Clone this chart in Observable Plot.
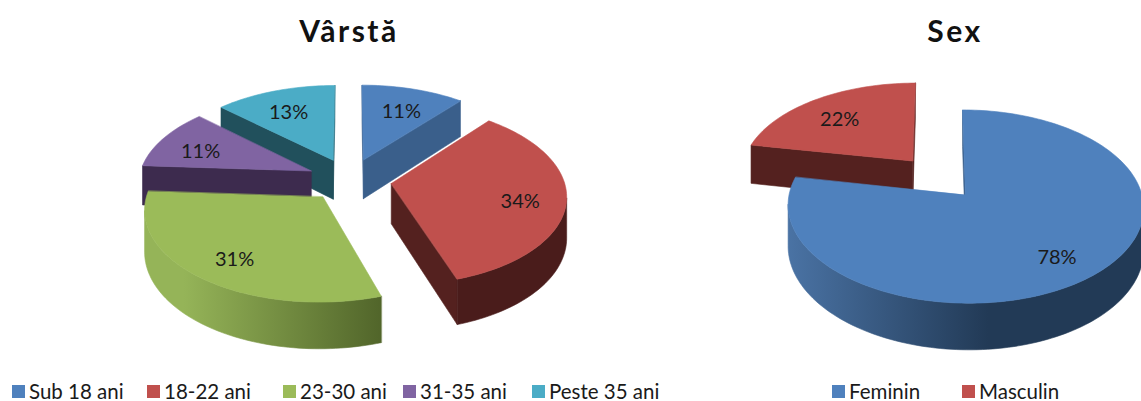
<!DOCTYPE html>
<html>
<head>
<meta charset="utf-8">
<script src="https://cdn.jsdelivr.net/npm/d3@7"></script>
<script src="https://cdn.jsdelivr.net/npm/@observablehq/plot@0.6"></script>
<style>
  html, body { margin: 0; padding: 0; background: #ffffff; }
  body { width: 1141px; height: 401px; overflow: hidden; position: relative; font-family: Lato, "Open Sans", sans-serif; }
  #chart { position: absolute; left: 0; top: 0; }
  .title { position: absolute; top: 12px; font-size: 30px; font-weight: 700; letter-spacing: 2.5px; color: #111; transform: translateX(-50%); white-space: nowrap; }
  .legitem { position: absolute; top: 380px; font-size: 20.5px; color: #1a1a1a; white-space: nowrap; line-height: 22px; height: 22px; }
  .legitem .sw { position: absolute; left: 0; top: 5px; width: 13px; height: 13px; }
  .legitem .tx { position: absolute; left: 17px; top: 0; }
</style>
</head>
<body>
<div id="chart"></div>
<script>
// ---------------- data ----------------
const ageTitle = "Vârstă";
const ageCategories = ["Sub 18 ani", "18-22 ani", "23-30 ani", "31-35 ani", "Peste 35 ani"];
const ageValues = [11, 34, 31, 11, 13];
const ageColors = ["#4F81BD", "#C0504D", "#9BBB59", "#8064A2", "#4BACC6"];

const sexTitle = "Sex";
const sexCategories = ["Feminin", "Masculin"];
const sexValues = [78, 22];
const sexColors = ["#4F81BD", "#C0504D"];

// shading per colour: [cut face, wall light, wall dark]
const shade = {
  "#4F81BD": ["#3A5F8B", "#4D77AA", "#223A56"],
  "#C0504D": ["#54211F", "#7A302E", "#4A1C1B"],
  "#9BBB59": ["#5A6E30", "#95B458", "#4B5E26"],
  "#8064A2": ["#3D2B4E", "#6A5288", "#33243F"],
  "#4BACC6": ["#21505C", "#3C8EA4", "#1C434D"]
};

// ---------------- layout ----------------
const W = 1141, H = 370;
const leftPie  = {id: "a", cx: 349, cy: 179, ax: 172.5, by: 88, q: 0.12, h: 40, explode: 0.245, labelR: 0.74};
const rightPie = {id: "s", cx: 938, cy: 177, ax: 172.5, by: 91, q: 0.12, h: 40, explode: 0.24, labelR: 0.74};

function project(p, X, Y, Z) {
  const s = 1 / (1 + p.q * Y);
  return [p.cx + p.ax * X * s, p.cy + (-p.by * Y + p.h * (1 - Z)) * s];
}
function shoelace(pts) {
  let a = 0;
  for (let i = 0; i < pts.length; i++) {
    const [x1, y1] = pts[i], [x2, y2] = pts[(i + 1) % pts.length];
    a += x1 * y2 - x2 * y1;
  }
  return a;
}

function buildPie(cats, vals, colors, p) {
  const total = d3.sum(vals);
  let acc = 0;
  const slices = vals.map((v, i) => {
    const a0 = acc / total * 2 * Math.PI; acc += v;
    const a1 = acc / total * 2 * Math.PI;
    const m = (a0 + a1) / 2;
    return {i, cat: cats[i], v, a0, a1, m, color: colors[i],
            ox: p.explode * Math.sin(m), oy: p.explode * Math.cos(m)};
  });
  const ordered = slices.slice().sort((a, b) => b.oy - a.oy);
  const faces = [];
  const labels = [];
  for (const sl of ordered) {
    const rim = (t, Z) => project(p, sl.ox + Math.sin(t), sl.oy + Math.cos(t), Z);
    const apexT = project(p, sl.ox, sl.oy, 1), apexB = project(p, sl.ox, sl.oy, 0);
    const n = Math.max(2, Math.ceil((sl.a1 - sl.a0) / (Math.PI / 120)));
    const ts = d3.range(n + 1).map(k => sl.a0 + (sl.a1 - sl.a0) * k / n);
    const [cut] = shade[sl.color];
    // radial cut faces (outward ordered)
    const f0 = [apexT, rim(sl.a0, 1), rim(sl.a0, 0), apexB];
    const f1 = [apexT, apexB, rim(sl.a1, 0), rim(sl.a1, 1)];
    if (shoelace(f0) < 0) faces.push({pts: f0, fill: cut});
    if (shoelace(f1) < 0) faces.push({pts: f1, fill: cut});
    // outer wall, visible runs
    let run = null;
    const runs = [];
    for (let k = 0; k < n; k++) {
      const quad = [rim(ts[k], 1), rim(ts[k + 1], 1), rim(ts[k + 1], 0), rim(ts[k], 0)];
      const vis = shoelace(quad) < 0;
      if (vis) { if (!run) { run = [k, k + 1]; runs.push(run); } else run[1] = k + 1; }
      else run = null;
    }
    for (const [k0, k1] of runs) {
      const top = d3.range(k0, k1 + 1).map(k => rim(ts[k], 1));
      const bot = d3.range(k1, k0 - 1, -1).map(k => rim(ts[k], 0));
      faces.push({pts: top.concat(bot), fill: `url(#wall-${p.id}-${sl.i})`});
    }
    // top face
    faces.push({pts: [apexT].concat(ts.map(t => rim(t, 1))), fill: sl.color});
    const lp = project(p, sl.ox + p.labelR * Math.sin(sl.m), sl.oy + p.labelR * Math.cos(sl.m), 1);
    labels.push({x: lp[0], y: lp[1], text: `${sl.v}%`});
  }
  const grads = slices.map(sl => ({id: `wall-${p.id}-${sl.i}`, x1: p.cx - p.ax * 1.2, x2: p.cx + p.ax * 1.2,
                                   light: shade[sl.color][1], dark: shade[sl.color][2]}));
  return {faces, labels, grads};
}

const A = buildPie(ageCategories, ageValues, ageColors, leftPie);
const S = buildPie(sexCategories, sexValues, sexColors, rightPie);

const faceMarks = [...A.faces, ...S.faces].map(f =>
  Plot.line(f.pts, {x: d => d[0], y: d => d[1], curve: "linear-closed",
                    fill: f.fill, stroke: f.fill, strokeWidth: 0.6, strokeOpacity: 1})
);

const plot = Plot.plot({
  width: W, height: H, margin: 0,
  x: {domain: [0, W], range: [0, W], axis: null},
  y: {domain: [0, H], range: [0, H], axis: null},
  style: {background: "transparent", overflow: "hidden"},
  marks: [
    ...faceMarks,
    Plot.text([...A.labels, ...S.labels], {x: "x", y: "y", text: "text", fontSize: 20, dy: 5,
      fontFamily: "Lato, 'Open Sans', sans-serif", fill: "#1a1a1a"})
  ]
});

// gradient defs for the walls
const defs = d3.select(plot).insert("defs", ":first-child");
for (const g of [...A.grads, ...S.grads]) {
  const lg = defs.append("linearGradient").attr("id", g.id).attr("gradientUnits", "userSpaceOnUse")
    .attr("x1", g.x1).attr("x2", g.x2).attr("y1", 0).attr("y2", 0);
  lg.append("stop").attr("offset", "0.1").attr("stop-color", g.light);
  lg.append("stop").attr("offset", "0.62").attr("stop-color", g.dark);
  lg.append("stop").attr("offset", "1").attr("stop-color", g.dark);
}
document.getElementById("chart").appendChild(plot);

// titles
function addTitle(text, x) {
  const t = document.createElement("div");
  t.className = "title"; t.textContent = text; t.style.left = x + "px";
  document.body.appendChild(t);
}
addTitle(ageTitle, leftPie.cx);
addTitle(sexTitle, 955);

// legends
function addLegend(cats, colors, xs) {
  cats.forEach((c, i) => {
    const d = document.createElement("div");
    d.className = "legitem"; d.style.left = xs[i] + "px";
    const sw = document.createElement("span"); sw.className = "sw"; sw.style.background = colors[i];
    const tx = document.createElement("span"); tx.className = "tx"; tx.textContent = c;
    d.appendChild(sw); d.appendChild(tx);
    document.body.appendChild(d);
  });
}
addLegend(ageCategories, ageColors, [12, 147, 283, 403, 532]);
addLegend(sexCategories, sexColors, [832, 962]);
</script>
</body>
</html>
